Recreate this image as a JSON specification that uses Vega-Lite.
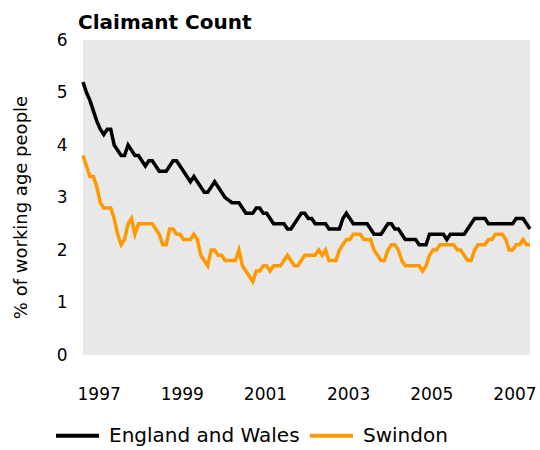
{
  "$schema": "https://vega.github.io/schema/vega-lite/v6.json",
  "autosize": "none",
  "width": 447,
  "height": 315,
  "padding": {"left": 83, "top": 40, "right": 10, "bottom": 95},
  "background": "white",
  "config": {
    "font": "DejaVu Sans",
    "view": {"fill": "#e8e8e8", "stroke": null}
  },
  "title": {
    "text": "Claimant Count",
    "anchor": "start",
    "frame": "group",
    "fontSize": 20,
    "fontWeight": "bold",
    "font": "DejaVu Sans",
    "color": "#000000",
    "dx": -5,
    "offset": -2
  },
  "datasets": {
    "series": [
      {"s": "England and Wales", "v": [5.2,5.0,4.85,4.65,4.45,4.3,4.2,4.3,4.3,4.0,3.9,3.8,3.8,4.0,3.9,3.8,3.8,3.7,3.6,3.7,3.7,3.6,3.5,3.5,3.5,3.6,3.7,3.7,3.6,3.5,3.4,3.3,3.4,3.3,3.2,3.1,3.1,3.2,3.3,3.2,3.1,3.0,2.95,2.9,2.9,2.9,2.8,2.7,2.7,2.7,2.8,2.8,2.7,2.7,2.6,2.5,2.5,2.5,2.5,2.4,2.4,2.5,2.6,2.7,2.7,2.6,2.6,2.5,2.5,2.5,2.5,2.4,2.4,2.4,2.4,2.6,2.7,2.6,2.5,2.5,2.5,2.5,2.5,2.4,2.3,2.3,2.3,2.4,2.5,2.5,2.4,2.4,2.3,2.2,2.2,2.2,2.2,2.1,2.1,2.1,2.3,2.3,2.3,2.3,2.3,2.2,2.3,2.3,2.3,2.3,2.3,2.4,2.5,2.6,2.6,2.6,2.6,2.5,2.5,2.5,2.5,2.5,2.5,2.5,2.5,2.6,2.6,2.6,2.5,2.4]},
      {"s": "Swindon", "v": [3.8,3.6,3.4,3.4,3.2,2.9,2.8,2.8,2.8,2.6,2.3,2.1,2.2,2.5,2.6,2.3,2.5,2.5,2.5,2.5,2.5,2.4,2.3,2.1,2.1,2.4,2.4,2.3,2.3,2.2,2.2,2.2,2.3,2.2,1.9,1.8,1.7,2.0,2.0,1.9,1.9,1.8,1.8,1.8,1.8,2.0,1.7,1.6,1.5,1.4,1.6,1.6,1.7,1.7,1.6,1.7,1.7,1.7,1.8,1.9,1.8,1.7,1.7,1.8,1.9,1.9,1.9,1.9,2.0,1.9,2.0,1.8,1.8,1.8,2.0,2.1,2.2,2.2,2.3,2.3,2.3,2.2,2.2,2.2,2.0,1.9,1.8,1.8,2.0,2.1,2.1,2.0,1.8,1.7,1.7,1.7,1.7,1.7,1.6,1.7,1.9,2.0,2.0,2.1,2.1,2.1,2.1,2.1,2.0,2.0,1.9,1.8,1.8,2.0,2.1,2.1,2.1,2.2,2.2,2.3,2.3,2.3,2.2,2.0,2.0,2.1,2.1,2.2,2.1,2.1]}
    ]
  },
  "data": {"name": "series"},
  "transform": [
    {"flatten": ["v"], "as": ["value"]},
    {"window": [{"op": "row_number", "as": "m"}], "groupby": ["s"]}
  ],
  "mark": {"type": "line", "strokeWidth": 3.5, "clip": false},
  "encoding": {
    "x": {
      "field": "m",
      "type": "quantitative",
      "scale": {"domain": [1, 130], "nice": false, "zero": false},
      "axis": {
        "values": [1, 25, 49, 73, 97, 121],
        "labelExpr": "1997 + (datum.value - 1) / 12",
        "domain": false,
        "ticks": false,
        "grid": false,
        "labelAlign": "left",
        "labelOffset": -6,
        "labelPadding": 31,
        "labelFontSize": 17,
        "labelColor": "#000000",
        "labelFont": "DejaVu Sans",
        "labelFlush": false,
        "labelOverlap": false,
        "title": null
      }
    },
    "y": {
      "field": "value",
      "type": "quantitative",
      "scale": {"domain": [0, 6], "nice": false},
      "axis": {
        "values": [0, 1, 2, 3, 4, 5, 6],
        "domain": false,
        "ticks": false,
        "grid": false,
        "labelPadding": 16,
        "labelFontSize": 17,
        "labelColor": "#000000",
        "labelFont": "DejaVu Sans",
        "title": "% of working age people",
        "titleFontSize": 18,
        "titleFontWeight": "normal",
        "titleFont": "DejaVu Sans",
        "titleColor": "#000000",
        "titlePadding": 26,
        "titleY": 167
      }
    },
    "color": {
      "field": "s",
      "type": "nominal",
      "scale": {"domain": ["England and Wales", "Swindon"], "range": ["#000000", "#ff9900"]},
      "legend": {
        "orient": "none",
        "legendX": -29,
        "legendY": 372,
        "direction": "horizontal",
        "title": null,
        "symbolType": "stroke",
        "symbolSize": 1849,
        "symbolStrokeWidth": 4,
        "labelFontSize": 20,
        "labelFont": "DejaVu Sans",
        "labelColor": "#000000",
        "labelOffset": 8,
        "columnPadding": 2,
        "labelLimit": 400
      }
    }
  }
}
